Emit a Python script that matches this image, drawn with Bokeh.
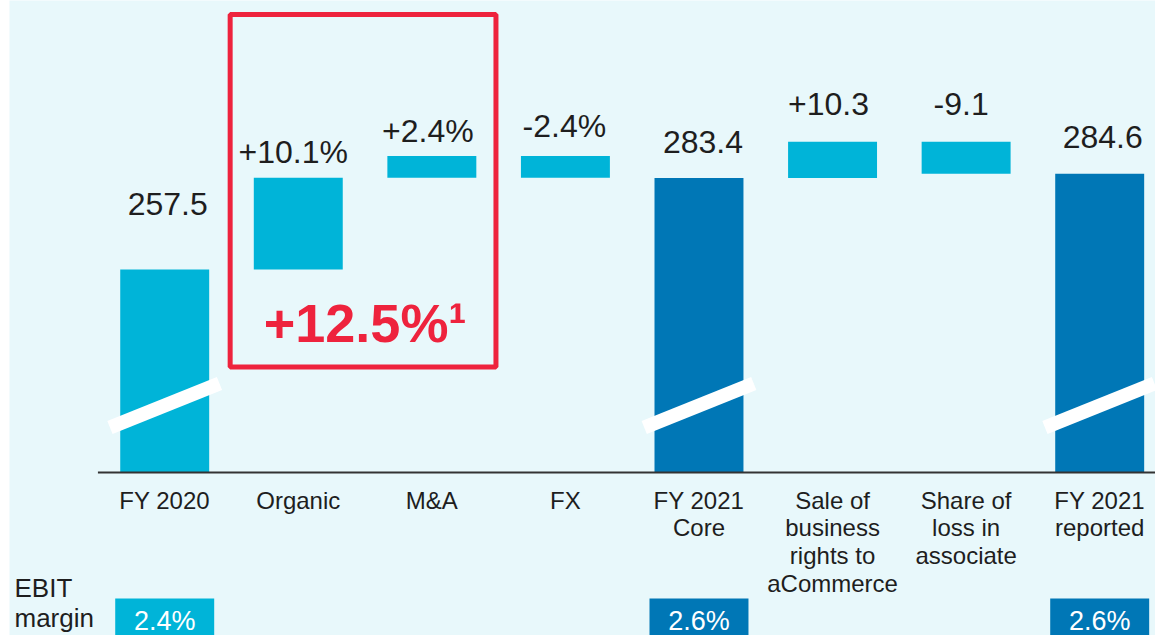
from bokeh.plotting import figure
from bokeh.models import Range1d, ColumnDataSource
from bokeh.core.properties import value
from bokeh.embed import file_html
from bokeh.resources import INLINE

# ---------------- data ----------------
categories = ["FY 2020", "Organic", "M&A", "FX", "FY 2021\nCore",
              "Sale of\nbusiness\nrights to\naCommerce",
              "Share of\nloss in\nassociate", "FY 2021\nreported"]
step_kind = ["total", "pct", "pct", "pct", "total", "abs", "abs", "total"]
step_value = [257.5, 10.1, 2.4, -2.4, 283.4, 10.3, -9.1, 284.6]
value_labels = ["257.5", "+10.1%", "+2.4%", "-2.4%", "283.4", "+10.3", "-9.1", "284.6"]
ebit_margin = ["2.4%", "", "", "", "2.6%", "", "", "2.6%"]
highlight_label = "+12.5%\u00b9"
row_label = "EBIT\nmargin"

# ---------------- style ----------------
BG = "#E8F8FB"
LIGHT = "#00B4D8"
DARK = "#0077B6"
RED = "#EE233D"
TXT = "#1E1E1E"
FONT = value("Liberation Sans")
AXIS_BASE = 200.0  # broken axis: bars start here
bar_colors = [LIGHT, LIGHT, LIGHT, LIGHT, DARK, LIGHT, LIGHT, DARK]
label_gap = [47, 14, 13.6, 18.6, 17.6, 19.3, 19.3, 18]      # px from bar top to label baseline
label_dx = [3, -5, -4, -1, 4, -4, -5, 3]                      # px
VAL_SIZE = 32

# ---------------- waterfall computation ----------------
xs = list(range(len(categories)))
base_pct = step_value[0]
running = 0.0
bottoms, tops = [], []
for kind, v in zip(step_kind, step_value):
    if kind == "total":
        b, t = AXIS_BASE, v
        running = v
    else:
        d = base_pct * v / 100.0 if kind == "pct" else v
        b, t = running, running + d
        running += d
    bottoms.append(min(b, t))
    tops.append(max(b, t))

W, H, LEFT = 1155, 635, 9
p = figure(width=W, height=H,
           x_range=Range1d(-1.1620, 7.4178), y_range=Range1d(153.82, 333.71),
           output_backend="svg", toolbar_location=None,
           min_border_left=LEFT, min_border_right=0, min_border_top=0, min_border_bottom=0,
           x_axis_location=None, y_axis_location=None,
           background_fill_color=BG, border_fill_color="white", outline_line_color=None)
p.grid.visible = False
p.extra_y_ranges = {"px": Range1d(H, 0)}
p.extra_x_ranges = {"px": Range1d(LEFT, W)}

# "top" anchored text: cap top sits ~0.21em below the anchor, baseline ~0.92em below
top_off = [-(g + 0.924 * VAL_SIZE) for g in label_gap]
bars = ColumnDataSource(dict(x=xs, bottom=bottoms, top=tops, color=bar_colors,
                             label=value_labels, off=top_off, dx=label_dx))
p.vbar(x="x", width=0.666, bottom="bottom", top="top", fill_color="color",
       line_color=None, source=bars)

# baseline
p.segment(x0=[-0.5], y0=[AXIS_BASE], x1=[7.6], y1=[AXIS_BASE], line_color="#333333", line_width=2)

# axis break marks on total bars
tot = [i for i, k in enumerate(step_kind) if k == "total"]
p.segment(x0=[i - 0.41 for i in tot], y0=[427] * len(tot),
          x1=[i + 0.41 for i in tot], y1=[383] * len(tot),
          y_range_name="px", line_color="white", line_width=14, line_cap="butt")

# value labels
p.text(x="x", y="top", text="label", x_offset="dx", y_offset="off", source=bars,
       text_font=FONT, text_font_size=f"{VAL_SIZE}px", text_color=TXT,
       text_align="center", text_baseline="top")

# category labels
p.text(x=xs, y=[486] * len(xs), text=categories, y_range_name="px",
       text_font=FONT, text_font_size="24px", text_color=TXT,
       text_align="center", text_baseline="top", text_line_height=1.026)

# highlight box
p.quad(left=[0.49], right=[2.48], top=[14], bottom=[366.5], y_range_name="px",
       fill_color=None, line_color=RED, line_width=5)
p.text(x=[1.5], y=[292], text=[highlight_label], y_range_name="px",
       text_font=FONT, text_font_size="54px", text_font_style="bold",
       text_color=RED, text_align="center", text_baseline="top")

# EBIT margin row
ebit_x = [xs[i] for i, m in enumerate(ebit_margin) if m]
ebit_t = [m for m in ebit_margin if m]
ebit_c = [bar_colors[i] for i, m in enumerate(ebit_margin) if m]
p.vbar(x=ebit_x, width=0.741, bottom=[660] * len(ebit_x), top=[598] * len(ebit_x),
       y_range_name="px", fill_color=ebit_c, line_color=None)
p.text(x=ebit_x, y=[605] * len(ebit_x), text=ebit_t, y_range_name="px",
       text_font=FONT, text_font_size="27px", text_color="white",
       text_align="center", text_baseline="top")
p.text(x=[14], y=[572], text=[row_label], x_range_name="px", y_range_name="px",
       text_font=FONT, text_font_size="26px", text_color=TXT,
       text_align="left", text_baseline="top", text_line_height=1.02)

open("out.html", "w").write(file_html(p, INLINE))
